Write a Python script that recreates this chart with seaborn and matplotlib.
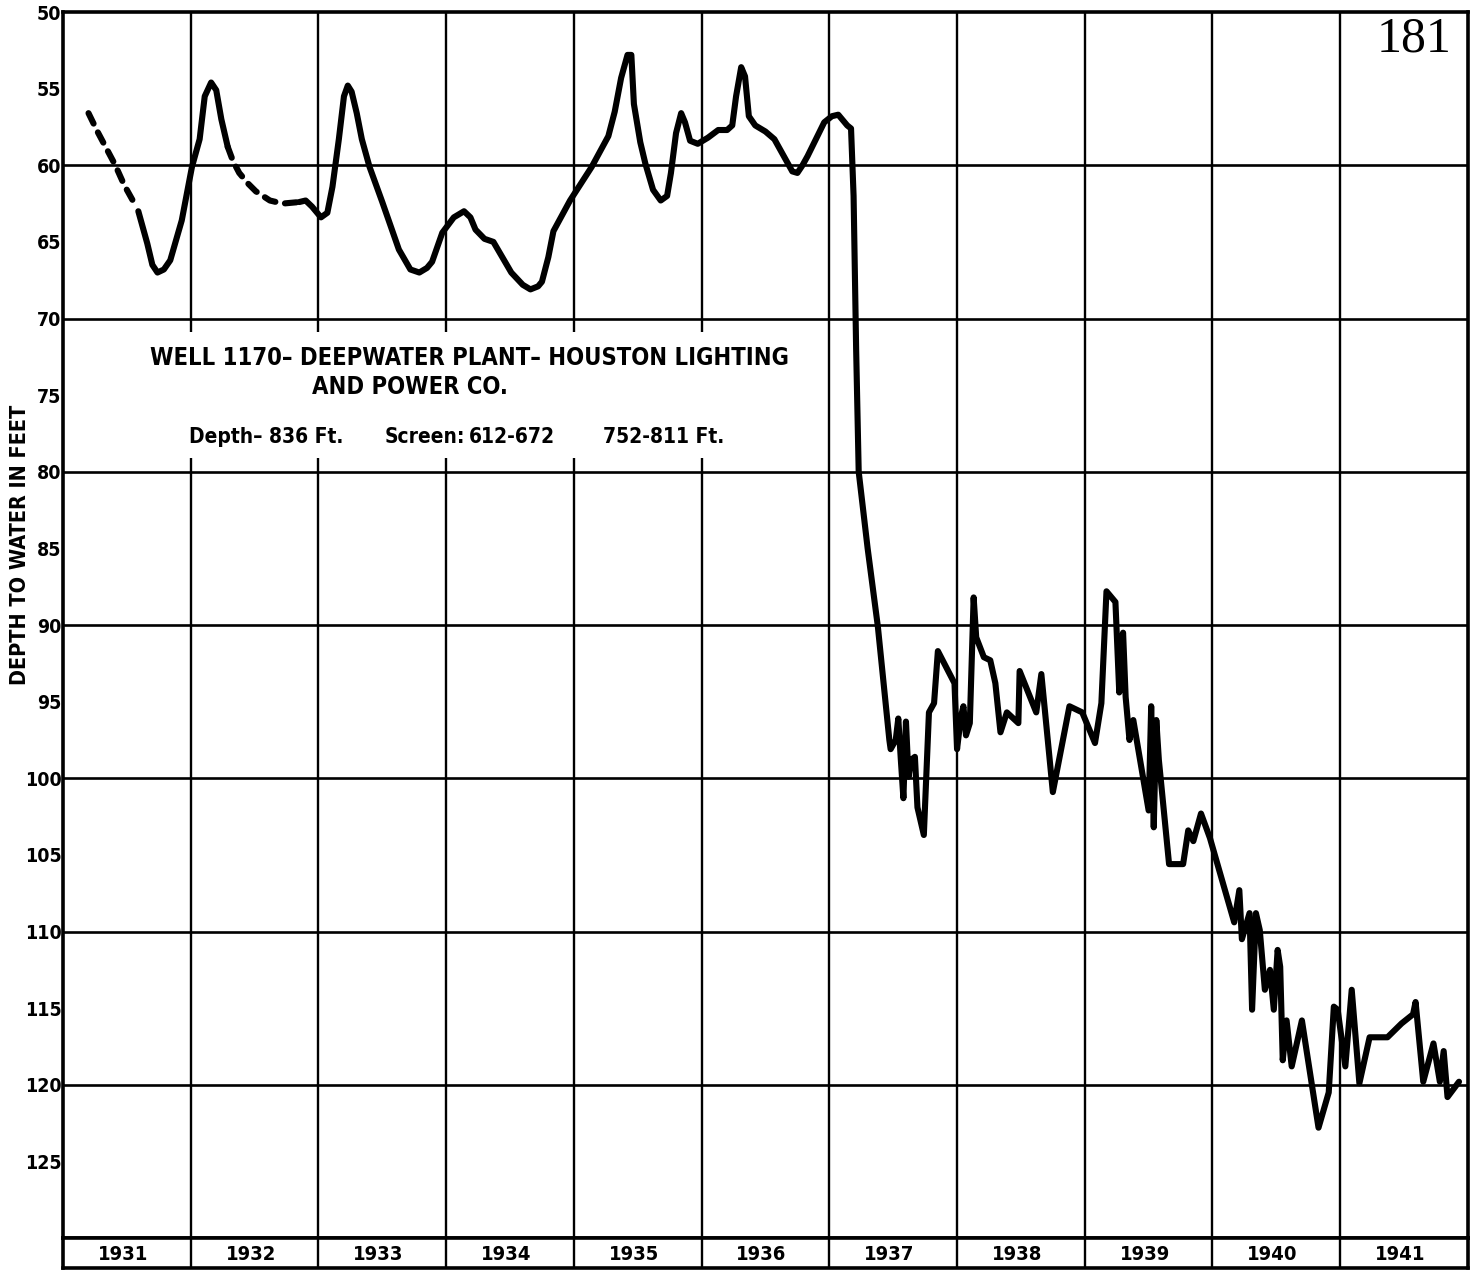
import matplotlib
matplotlib.use("Agg")
import matplotlib.pyplot as plt
import seaborn as sns
import pandas as pd

# estimated (dashed) stretches of the hydrograph
dashed_a_year = [1931.20, 1931.27, 1931.34, 1931.41, 1931.48, 1931.56]
dashed_a_depth = [56.6, 57.8, 58.9, 60.0, 61.3, 62.5]
dashed_b_year = [1932.29, 1932.33, 1932.38, 1932.45, 1932.51, 1932.62, 1932.72, 1932.85]
dashed_b_depth = [58.8, 59.7, 60.5, 61.2, 61.7, 62.3, 62.5, 62.4]

# measured stretches
early_year = [1931.59, 1931.66, 1931.70, 1931.74, 1931.79, 1931.84, 1931.93, 1932.01,
              1932.07, 1932.11, 1932.16, 1932.20, 1932.24, 1932.29]
early_depth = [63.0, 65.1, 66.5, 67.0, 66.8, 66.2, 63.6, 60.1,
               58.3, 55.5, 54.6, 55.1, 57.0, 58.8]

main_year = [1932.85, 1932.90, 1932.95, 1933.02, 1933.07, 1933.11, 1933.16, 1933.20, 1933.23,
             1933.26, 1933.30, 1933.34, 1933.40, 1933.50, 1933.63, 1933.72, 1933.79, 1933.85,
             1933.89, 1933.97, 1934.06, 1934.14, 1934.19, 1934.23, 1934.30, 1934.37, 1934.44,
             1934.51, 1934.60, 1934.66, 1934.72, 1934.75, 1934.80, 1934.84, 1934.97, 1935.14,
             1935.27, 1935.32, 1935.37, 1935.42, 1935.45, 1935.47, 1935.52, 1935.56, 1935.62,
             1935.68, 1935.73, 1935.76, 1935.80, 1935.84, 1935.87, 1935.91, 1935.97, 1936.05,
             1936.13, 1936.20, 1936.24, 1936.27, 1936.31, 1936.34, 1936.37, 1936.42, 1936.50,
             1936.57, 1936.65, 1936.71, 1936.75, 1936.79, 1936.83, 1936.96, 1937.02, 1937.07,
             1937.14, 1937.17, 1937.19, 1937.21, 1937.23, 1937.30, 1937.38, 1937.47, 1937.48,
             1937.52, 1937.54, 1937.56, 1937.58, 1937.60, 1937.62, 1937.64, 1937.67, 1937.69,
             1937.74, 1937.78, 1937.82, 1937.85, 1937.98, 1938.00, 1938.03, 1938.05, 1938.07,
             1938.10, 1938.13, 1938.15, 1938.21, 1938.26, 1938.30, 1938.34, 1938.39, 1938.48,
             1938.49, 1938.62, 1938.66, 1938.75, 1938.88, 1938.98, 1939.08, 1939.13, 1939.17,
             1939.24, 1939.27, 1939.28, 1939.30, 1939.32, 1939.35, 1939.38, 1939.50, 1939.52,
             1939.54, 1939.56, 1939.58, 1939.66, 1939.77, 1939.81, 1939.85, 1939.91, 1939.98,
             1940.17, 1940.21, 1940.23, 1940.29, 1940.31, 1940.34, 1940.37, 1940.41, 1940.45,
             1940.48, 1940.51, 1940.53, 1940.55, 1940.58, 1940.62, 1940.70, 1940.83, 1940.91,
             1940.95, 1940.98, 1941.04, 1941.09, 1941.15, 1941.23, 1941.37, 1941.48, 1941.57,
             1941.59, 1941.65, 1941.73, 1941.78, 1941.81, 1941.84, 1941.93]
main_depth = [62.4, 62.3, 62.7, 63.4, 63.1, 61.4, 58.3, 55.5, 54.8,
              55.2, 56.6, 58.3, 60.1, 62.4, 65.5, 66.8, 67.0, 66.7,
              66.3, 64.4, 63.4, 63.0, 63.4, 64.2, 64.8, 65.0, 66.0,
              67.0, 67.8, 68.1, 67.9, 67.6, 66.0, 64.3, 62.3, 60.1,
              58.1, 56.5, 54.3, 52.8, 52.8, 56.0, 58.5, 59.9, 61.6,
              62.3, 62.0, 60.5, 57.9, 56.6, 57.2, 58.4, 58.6, 58.2,
              57.7, 57.7, 57.4, 55.5, 53.6, 54.2, 56.8, 57.4, 57.8,
              58.3, 59.5, 60.4, 60.5, 60.0, 59.4, 57.2, 56.8, 56.7,
              57.4, 57.6, 62.0, 72.0, 80.0, 85.0, 90.1, 97.5, 98.1,
              97.5, 96.1, 98.8, 101.3, 96.3, 99.9, 98.8, 98.6, 101.9,
              103.7, 95.7, 95.1, 91.7, 93.8, 98.1, 96.0, 95.3, 97.2,
              96.4, 88.2, 90.8, 92.1, 92.3, 93.8, 97.0, 95.7, 96.4,
              93.0, 95.7, 93.2, 100.9, 95.3, 95.7, 97.7, 95.1, 87.8,
              88.5, 94.4, 91.4, 90.5, 94.7, 97.5, 96.2, 102.1, 95.3,
              103.2, 96.2, 98.8, 105.6, 105.6, 103.4, 104.1, 102.3, 103.9,
              109.4, 107.3, 110.5, 108.8, 115.1, 108.8, 109.9, 113.8, 112.5,
              115.1, 111.2, 112.3, 118.4, 115.8, 118.8, 115.8, 122.8, 120.5,
              114.9, 115.1, 118.8, 113.8, 119.9, 116.9, 116.9, 116.0, 115.4,
              114.6, 119.8, 117.3, 119.8, 117.8, 120.8, 119.8]

years = list(range(1931, 1942))
depth_ticks = list(range(50, 130, 5))

sns.set_style("white")
plt.rcParams["font.family"] = ["DejaVu Sans"]
plt.rcParams["font.stretch"] = "condensed"
plt.rcParams["font.weight"] = "bold"
plt.rcParams["text.color"] = "black"
plt.rcParams["ytick.color"] = "black"
plt.rcParams["ytick.labelcolor"] = "black"

fig = plt.figure(figsize=(14.78, 12.77), dpi=100)
ax = fig.add_axes([0.0426, 0.0305, 0.9506, 0.9601])
strip = fig.add_axes([0.0426, 0.0070, 0.9506, 0.0235])

# grid
for y in range(60, 130, 10):
    ax.axhline(y, color="black", lw=1.9, zorder=1)
for yr in years[1:]:
    ax.axvline(yr, color="black", lw=1.7, zorder=1)
# blank panel behind the caption
ax.add_patch(plt.Rectangle((1931.02, 70.9), 5.5, 8.2, facecolor="white",
                           edgecolor="none", zorder=1.5))

line_kw = dict(color="black", lw=4.4, sort=False, estimator=None, ax=ax, zorder=3)
sns.lineplot(x=early_year, y=early_depth, solid_capstyle="round",
             solid_joinstyle="round", **line_kw)
sns.lineplot(x=main_year, y=main_depth, solid_capstyle="round",
             solid_joinstyle="round", **line_kw)
for xs, ys in [(dashed_a_year, dashed_a_depth), (dashed_b_year, dashed_b_depth)]:
    sns.lineplot(x=xs, y=ys, linestyle=(0, (1.9, 1.6)), dash_capstyle="round", **line_kw)

ax.set_xlim(1931, 1942)
ax.set_ylim(130, 50)
ax.set_xticks([])
ax.set_yticks(depth_ticks)
ax.set_yticklabels([str(v) for v in depth_ticks], fontsize=14, fontweight="bold")
ax.set_yticks(list(range(55, 130, 10)), minor=True)
ax.tick_params(axis="y", which="major", length=0, pad=1)
ax.tick_params(axis="y", which="minor", direction="in", length=24, width=2.6,
               left=True, right=True, color="black")
for s in ax.spines.values():
    s.set_linewidth(2.6)
    s.set_color("black")
ax.set_xlabel("")
ax.set_ylabel("")
fig.text(0.0135, 0.573, "DEPTH TO WATER IN FEET", rotation=90, ha="center", va="center",
         fontsize=15.5, fontweight="bold")

# caption
ax.text(1934.18, 72.6, "WELL 1170\u2013 DEEPWATER PLANT\u2013 HOUSTON LIGHTING",
        ha="center", va="center", fontsize=17, fontweight="bold", zorder=4)
ax.text(1933.72, 74.5, "AND POWER CO.", ha="center", va="center",
        fontsize=17, fontweight="bold", zorder=4)
ax.text(1931.99, 77.7, "Depth\u2013 836 Ft.", ha="left", va="center",
        fontsize=15, fontweight="bold", zorder=4)
ax.text(1933.52, 77.7, "Screen:", ha="left", va="center",
        fontsize=15, fontweight="bold", zorder=4)
ax.text(1934.18, 77.7, "612-672", ha="left", va="center",
        fontsize=15, fontweight="bold", zorder=4)
ax.text(1935.23, 77.7, "752-811 Ft.", ha="left", va="center",
        fontsize=15, fontweight="bold", zorder=4)
ax.text(1941.58, 51.8, "181", ha="center", va="center", fontsize=36,
        family="Liberation Serif", fontweight="normal", fontstretch="normal", zorder=4)

# year strip
strip.set_xlim(1931, 1942)
strip.set_ylim(0, 1)
for yr in years[1:]:
    strip.axvline(yr, color="black", lw=1.7)
for yr in years:
    strip.text(yr + 0.47, 0.45, str(yr), ha="center", va="center",
               fontsize=14.5, fontweight="bold")
strip.set_xticks([])
strip.set_yticks([])
for s in strip.spines.values():
    s.set_linewidth(2.6)
    s.set_color("black")

fig.savefig("out.png", dpi=100)
